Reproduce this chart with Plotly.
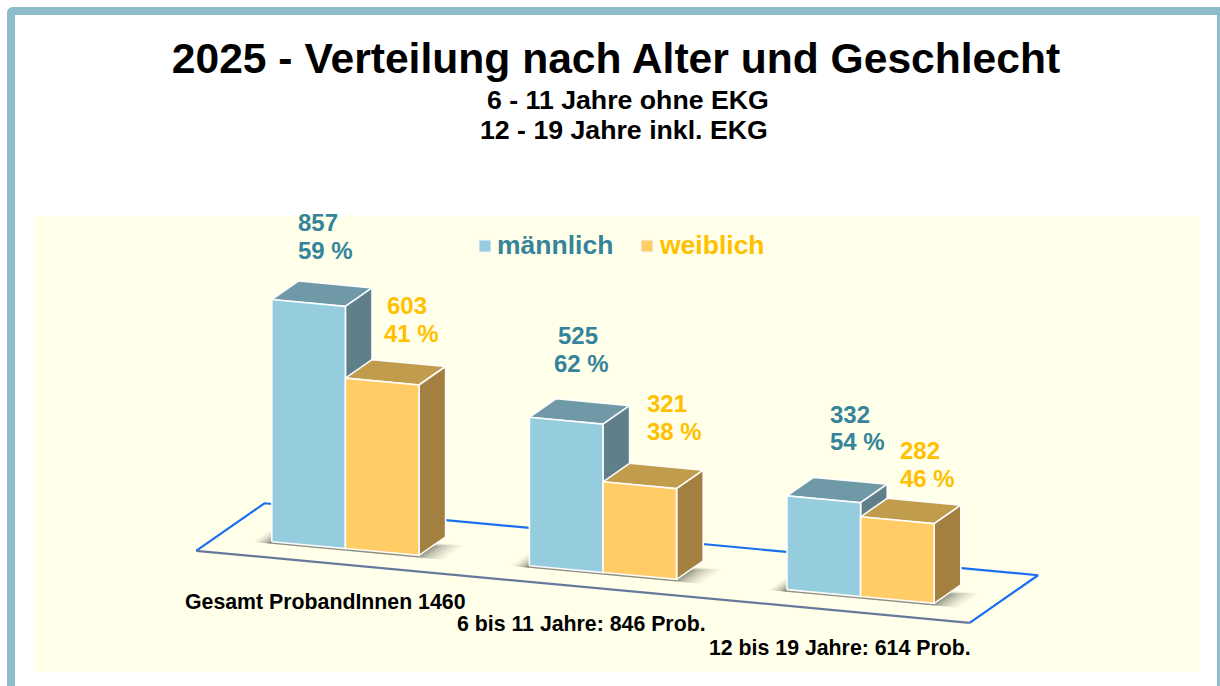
import plotly.graph_objects as go

# ---------- data ----------
groups = ["Gesamt", "6 bis 11 Jahre", "12 bis 19 Jahre"]
maennlich = [857, 525, 332]
weiblich = [603, 321, 282]
maennlich_pct = [59, 62, 54]
weiblich_pct = [41, 38, 46]
gesamt_labels = ["Gesamt ProbandInnen 1460", "6 bis 11 Jahre: 846 Prob.", "12 bis 19 Jahre: 614 Prob."]
title_text = "2025 - Verteilung nach Alter und Geschlecht"
sub_lines = ["6 - 11 Jahre ohne EKG", "12 - 19 Jahre inkl. EKG"]

# ---------- oblique projection of the 3D chart onto the page ----------
ORIGIN = (271.8, 541.7)
EX = (73.6, 6.85)      # one bar width
EZ = (26.6, -18.5)     # bar depth
EY = -0.2826           # pixels per unit of value
GROUP_STEP = 3.5       # bar widths between groups


def proj(x, v, z):
    return (ORIGIN[0] + x * EX[0] + z * EZ[0],
            ORIGIN[1] + x * EX[1] + z * EZ[1] + v * EY)


def poly(points):
    pts = [proj(*p) for p in points]
    pts.append(pts[0])
    return [p[0] for p in pts], [p[1] for p in pts]


fig = go.Figure()


def face(points, fill, name):
    xs, ys = poly(points)
    fig.add_trace(go.Scatter(x=xs, y=ys, mode="lines", fill="toself", fillcolor=fill,
                             line=dict(color="rgba(255,255,255,0.95)", width=1.6),
                             name=name, showlegend=False, hoverinfo="name"))


def bar(x, v, front, top, side, name):
    face([(x, v, 0), (x, v, 1), (x + 1, v, 1), (x + 1, v, 0)], top, name)
    face([(x + 1, 0, 0), (x + 1, 0, 1), (x + 1, v, 1), (x + 1, v, 0)], side, name)
    face([(x, 0, 0), (x + 1, 0, 0), (x + 1, v, 0), (x, v, 0)], front, name)


# floor
FL, FR, FF, FB = -0.75, 9.76, -0.77, 1.8
for pts, col, w in [
    ([(FL, 0, FF), (FL, 0, FB), (FR, 0, FB), (FR, 0, FF)], "#1A6FF0", 2.2),
    ([(FL, 0, FF), (FR, 0, FF)], "#66799A", 2.2),
]:
    xs = [proj(*p)[0] for p in pts]
    ys = [proj(*p)[1] for p in pts]
    fig.add_trace(go.Scatter(x=xs, y=ys, mode="lines", line=dict(color=col, width=w),
                             showlegend=False, hoverinfo="skip"))

# soft shadows under the bars
for i, g in enumerate(groups):
    x0 = i * GROUP_STEP
    for grow, alpha in [(0.36, 0.05), (0.3, 0.06), (0.24, 0.08), (0.18, 0.1),
                        (0.12, 0.13), (0.07, 0.16), (0.03, 0.2)]:
        xs, ys = poly([(x0 - grow * 0.6, 0, -0.1), (x0 + 2 + grow, 0, -0.1),
                       (x0 + 2 + grow, 0, 0.5 + grow * 0.5), (x0 - grow * 0.6, 0, 0.5 + grow * 0.5)])
        fig.add_trace(go.Scatter(x=xs, y=ys, mode="lines", fill="toself",
                                 fillcolor=f"rgba(60,60,50,{alpha})", line=dict(width=0),
                                 showlegend=False, hoverinfo="skip"))

# bars
for i, g in enumerate(groups):
    x0 = i * GROUP_STEP
    bar(x0, maennlich[i], "#95CDDF", "#7099A7", "#5F808B", f"{g} männlich")
    bar(x0 + 1, weiblich[i], "#FFCC66", "#C29C4D", "#A3803F", f"{g} weiblich")

# ---------- text ----------
FONT = "Liberation Sans, Arial, sans-serif"
BLUE_T = "#35849B"
GOLD_T = "#FFC000"


def text(x, y, s, size, color="#000000", anchor="center"):
    fig.add_annotation(x=x, y=y, xref="x", yref="y", text=f"<b>{s}</b>", showarrow=False,
                       xanchor=anchor, yanchor="middle",
                       font=dict(family=FONT, size=size, color=color))


text(628, 100, sub_lines[0], 26.7)
text(624, 130, sub_lines[1], 26.7)

# value labels: (x, y of the number, x, y of the percent), left anchored
M_POS = [(296, 222, 296, 250), (556, 335, 552, 363), (828, 414, 828, 441)]
W_POS = [(385, 305, 382, 333), (645, 403, 645, 431), (898, 450, 898, 478)]
for i in range(3):
    a, b, c, d = M_POS[i]
    text(a, b, str(maennlich[i]), 24, BLUE_T, "left")
    text(c, d, f"{maennlich_pct[i]} %", 24, BLUE_T, "left")
    a, b, c, d = W_POS[i]
    text(a, b, str(weiblich[i]), 24, GOLD_T, "left")
    text(c, d, f"{weiblich_pct[i]} %", 24, GOLD_T, "left")

# legend
text(495, 245, "männlich", 26.5, BLUE_T, "left")
text(657, 245, "weiblich", 26.5, GOLD_T, "left")

# totals under the floor
text(183, 602, gesamt_labels[0], 21.3, "#000000", "left")
text(455, 624, gesamt_labels[1], 21.3, "#000000", "left")
text(707, 648, gesamt_labels[2], 21.3, "#000000", "left")

shapes = [
    dict(type="rect", xref="x", yref="y", x0=34, x1=1200, y0=216, y1=672,
         fillcolor="#FFFFEA", line=dict(width=0), layer="below"),
    dict(type="path", xref="x", yref="y",
         path="M 11 700 L 11 13 Q 11 11 13 11 L 1221 11 L 1221 700",
         line=dict(color="#8CBBC9", width=8), layer="below"),
    dict(type="rect", xref="x", yref="y", x0=479, x1=491, y0=240, y1=252,
         fillcolor="#95CDDF", line=dict(color="#F4F4FF", width=1)),
    dict(type="rect", xref="x", yref="y", x0=641, x1=653, y0=240, y1=252,
         fillcolor="#FFCC66", line=dict(color="#F4F4FF", width=1)),
]

fig.update_layout(
    width=1220, height=686, margin=dict(l=0, r=0, t=0, b=0),
    autosize=False,
    paper_bgcolor="#FFFFFF", plot_bgcolor="#FFFFFF",
    showlegend=False, shapes=shapes,
    title=dict(text=f"<b>{title_text}</b>", x=616 / 1220, xanchor="center",
               y=1 - 58 / 686, yanchor="middle", xref="paper", yref="paper",
               font=dict(family=FONT, size=42.6, color="#000000")),
    xaxis=dict(range=[0, 1220], visible=False, fixedrange=True),
    yaxis=dict(range=[686, 0], visible=False, fixedrange=True),
)
fig.write_html("out.html", config={"displayModeBar": False},
               post_script="document.body.style.margin='0';document.documentElement.style.overflow='hidden';")
